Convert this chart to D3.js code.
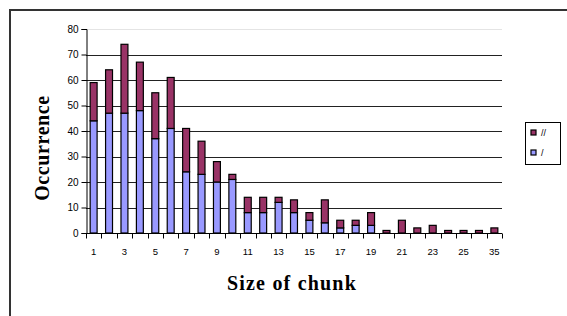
<!DOCTYPE html>
<html>
<head>
<meta charset="utf-8">
<script src="https://cdn.jsdelivr.net/npm/d3@7"></script>
<style>
  body { margin: 0; background: #fff; }
  svg { display: block; }
</style>
</head>
<body>
<svg id="chart" width="567" height="316"></svg>
<script>
// chunk sizes (x categories); only every other one gets a label
const sizes = ['1', '2', '3', '4', '5', '6', '7', '8', '9', '10', '11', '12', '13', '14',
  '15', '16', '17', '18', '19', '20', '21', '22', '23', '24', '25', '26', '35'];
// series "/" (bottom, blue)
const single = [44, 47, 47, 48, 37, 41, 24, 23, 20, 21, 8, 8, 12, 8, 5, 4, 2, 3, 3, 0, 0, 0, 0, 0, 0, 0, 0];
// series "//" (top, red)
const double = [15, 17, 27, 19, 18, 20, 17, 13, 8, 2, 6, 6, 2, 5, 3, 9, 3, 2, 5, 1, 5, 2, 3, 1, 1, 1, 2];
const yTicks = [0, 10, 20, 30, 40, 50, 60, 70, 80];
const seriesNames = ['/', '//'];
const seriesColors = ['#9999ff', '#993366'];

const svg = d3.select('#chart');

// outer chart frame
svg.append('rect')
  .attr('x', 10).attr('y', 10)
  .attr('width', 600).attr('height', 340)
  .attr('fill', 'none')
  .attr('stroke', '#333')
  .attr('stroke-width', 2);

const plot = { left: 86, right: 502, top: 29, bottom: 233 };

const x = d3.scaleBand()
  .domain(sizes)
  .range([plot.left, plot.right])
  .paddingInner(0.55)
  .paddingOuter(0.27);

const y = d3.scaleLinear()
  .domain([0, 80])
  .range([plot.bottom, plot.top]);

// gridlines
svg.append('g')
  .selectAll('line')
  .data(yTicks.filter(t => t > 0))
  .enter()
  .append('line')
  .attr('x1', plot.left)
  .attr('x2', plot.right)
  .attr('y1', d => Math.round(y(d)) + 0.5)
  .attr('y2', d => Math.round(y(d)) + 0.5)
  .attr('stroke', d => (d === 80 ? '#e4e4e4' : '#222'))
  .attr('stroke-width', 1);

// stacked bars
const rows = sizes.map((s, i) => ({ size: s, '/': single[i], '//': double[i] }));
const stack = d3.stack().keys(seriesNames)(rows);

svg.append('g')
  .selectAll('g')
  .data(stack)
  .enter()
  .append('g')
  .attr('fill', (d, i) => seriesColors[i])
  .selectAll('rect')
  .data(d => d.filter(p => p[1] > p[0]))
  .enter()
  .append('rect')
  .attr('x', d => x(d.data.size))
  .attr('width', x.bandwidth())
  .attr('y', d => y(d[1]))
  .attr('height', d => y(d[0]) - y(d[1]))
  .attr('stroke', '#000')
  .attr('stroke-width', 1.2);

// y axis
const yAxis = d3.axisLeft(y)
  .tickValues(yTicks)
  .tickSize(5)
  .tickPadding(3);
const yG = svg.append('g')
  .attr('transform', `translate(${plot.left + 0.5},0)`)
  .call(yAxis);
yG.select('.domain').attr('stroke', '#000');
yG.selectAll('.tick line').attr('stroke', '#000');
yG.selectAll('text')
  .attr('font-family', 'Liberation Sans, Arial, sans-serif')
  .attr('font-size', 10)
  .attr('fill', '#000');

// x axis: labels at band centres, tick marks at band boundaries
const xAxis = d3.axisBottom(x)
  .tickSize(0)
  .tickPadding(15)
  .tickFormat((d, i) => (i % 2 === 0 ? d : ''));
const xG = svg.append('g')
  .attr('transform', `translate(0,${plot.bottom + 0.5})`)
  .call(xAxis);
xG.select('.domain').attr('stroke', '#000').attr('d', `M${plot.left},0H${plot.right}`);
xG.selectAll('text')
  .attr('font-family', 'Liberation Sans, Arial, sans-serif')
  .attr('font-size', 9.5)
  .attr('fill', '#000');

const step = x.step();
const x0 = x(sizes[0]) - x.paddingOuter() * step;
xG.append('g')
  .selectAll('line')
  .data(d3.range(sizes.length + 1))
  .enter()
  .append('line')
  .attr('x1', i => Math.round(x0 + i * step) + 0.5)
  .attr('x2', i => Math.round(x0 + i * step) + 0.5)
  .attr('y1', 0)
  .attr('y2', 5)
  .attr('stroke', '#000');

// axis titles
svg.append('text')
  .attr('x', 292)
  .attr('y', 290)
  .attr('text-anchor', 'middle')
  .attr('font-family', 'Liberation Serif, Times New Roman, serif')
  .attr('font-weight', 'bold')
  .attr('font-size', 20)
  .attr('letter-spacing', 1.2)
  .text('Size of chunk');

svg.append('text')
  .attr('transform', 'translate(49,148) rotate(-90)')
  .attr('text-anchor', 'middle')
  .attr('font-family', 'Liberation Serif, Times New Roman, serif')
  .attr('font-weight', 'bold')
  .attr('font-size', 20)
  .attr('letter-spacing', 0.6)
  .text('Occurrence');

// legend ("//" first, like the reference)
const legend = svg.append('g');
legend.append('rect')
  .attr('x', 525.5).attr('y', 122.5)
  .attr('width', 35).attr('height', 42)
  .attr('fill', '#fff')
  .attr('stroke', '#000');
const legendItems = [1, 0];
const li = legend.selectAll('g.item')
  .data(legendItems)
  .enter()
  .append('g')
  .attr('class', 'item')
  .attr('transform', (d, i) => `translate(531,${130 + i * 20})`);
li.append('rect')
  .attr('width', 5).attr('height', 5)
  .attr('fill', d => seriesColors[d])
  .attr('stroke', '#000')
  .attr('stroke-width', 1.2);
li.append('text')
  .attr('x', 10)
  .attr('y', 6)
  .attr('font-family', 'Liberation Sans, Arial, sans-serif')
  .attr('font-size', 9)
  .text(d => seriesNames[d]);
</script>
</body>
</html>
